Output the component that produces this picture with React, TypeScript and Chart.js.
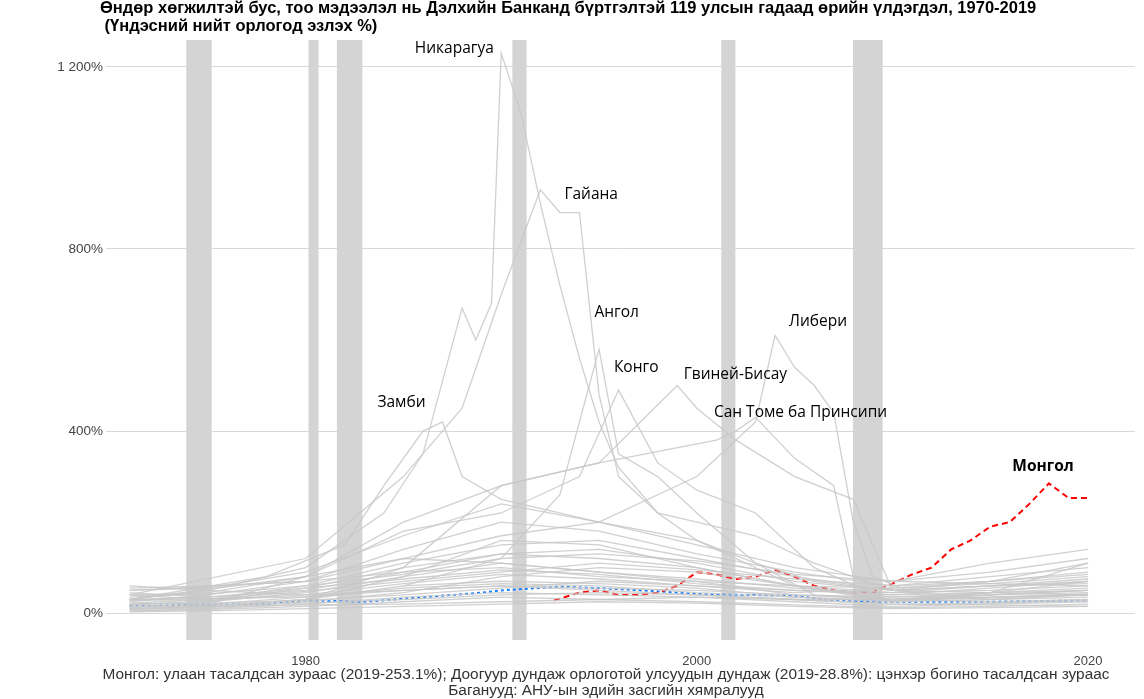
import React, { useEffect, useRef } from "react";
import { Chart, registerables } from "chart.js";
Chart.register(...registerables);

const titleLines = [
  "Өндөр хөгжилтэй бус, тоо мэдээлэл нь Дэлхийн Банканд бүртгэлтэй 119 улсын гадаад өрийн үлдэгдэл, 1970-2019",
  " (Үндэсний нийт орлогод эзлэх %)",
];
const footLines = [
  "Монгол: улаан тасалдсан зураас (2019-253.1%); Доогуур дундаж орлоготой улсуудын дундаж (2019-28.8%): цэнхэр богино тасалдсан зураас",
  "Баганууд: АНУ-ын эдийн засгийн хямралууд",
];
const recessions: [number, number][] = [
  [1973.9, 1975.2], [1980.15, 1980.66], [1981.6, 1982.9], [1990.57, 1991.3], [2001.25, 2001.97], [2007.98, 2009.5],
];
const years5 = [1971, 1975, 1980, 1985, 1990, 1995, 2000, 2005, 2010, 2015, 2020];
const background: number[][] = [
  [20, 25, 45, 80, 110, 90, 70, 40, 30, 35, 40],
  [10, 15, 30, 60, 70, 65, 55, 35, 25, 30, 35],
  [30, 35, 50, 90, 130, 120, 100, 60, 45, 50, 60],
  [5, 10, 20, 35, 45, 40, 35, 25, 15, 20, 25],
  [40, 30, 60, 110, 150, 160, 120, 80, 50, 70, 90],
  [15, 20, 35, 50, 60, 55, 50, 40, 35, 45, 55],
  [25, 40, 70, 140, 200, 180, 130, 90, 60, 80, 100],
  [60, 50, 40, 50, 60, 50, 40, 30, 30, 40, 50],
  [8, 12, 25, 45, 80, 100, 90, 60, 30, 25, 30],
  [35, 45, 80, 120, 110, 90, 75, 55, 40, 55, 70],
  [12, 18, 22, 30, 40, 45, 40, 30, 20, 22, 28],
  [50, 55, 90, 170, 240, 200, 150, 100, 70, 110, 140],
  [20, 22, 28, 40, 55, 70, 60, 50, 40, 45, 50],
  [45, 35, 55, 75, 95, 85, 65, 50, 45, 60, 75],
  [5, 8, 15, 25, 35, 30, 25, 18, 12, 15, 20],
  [30, 28, 40, 65, 85, 75, 60, 45, 55, 65, 80],
  [18, 25, 55, 100, 130, 140, 110, 70, 50, 60, 65],
  [10, 14, 18, 20, 25, 30, 35, 30, 20, 18, 15],
  [55, 60, 70, 90, 100, 80, 70, 60, 55, 70, 110],
  [22, 30, 48, 70, 90, 110, 95, 75, 60, 70, 85],
  [15, 16, 30, 80, 160, 150, 100, 60, 35, 40, 45],
  [40, 42, 60, 85, 120, 130, 115, 85, 70, 90, 120],
  [3, 5, 10, 15, 20, 25, 22, 15, 10, 12, 15],
  [28, 32, 36, 55, 65, 60, 45, 35, 28, 35, 42],
];
const namedSeries: { label: string; pts: [number, number][] }[] = [
  { label: "Nicaragua", pts: [[1971, 30], [1975, 50], [1980, 100], [1984, 220], [1986, 350], [1988, 670], [1988.7, 600], [1989.5, 680], [1990, 1230], [1991, 1100], [1992, 900], [1993, 720], [1994, 560], [1995, 420], [1996, 320], [1998, 220], [2000, 160], [2003, 110], [2006, 70], [2010, 50], [2015, 60], [2020, 70]] },
  { label: "Guyana", pts: [[1971, 40], [1980, 120], [1985, 300], [1988, 450], [1990, 700], [1992, 930], [1993, 880], [1994, 880], [1995, 480], [1996, 300], [1998, 220], [2000, 200], [2003, 170], [2006, 110], [2010, 50], [2015, 45], [2020, 40]] },
  { label: "Angola", pts: [[1985, 60], [1990, 120], [1993, 260], [1995, 580], [1996, 350], [1998, 300], [2000, 220], [2003, 110], [2006, 40], [2010, 30], [2015, 45], [2020, 70]] },
  { label: "Congo", pts: [[1971, 30], [1980, 80], [1985, 180], [1990, 220], [1994, 300], [1996, 490], [1998, 330], [2000, 270], [2003, 220], [2006, 100], [2010, 25], [2015, 40], [2020, 50]] },
  { label: "GuineaBissau", pts: [[1975, 20], [1980, 80], [1985, 200], [1990, 280], [1995, 330], [1999, 500], [2000, 450], [2002, 380], [2005, 300], [2008, 250], [2010, 50], [2015, 30], [2020, 40]] },
  { label: "SaoTome", pts: [[1980, 30], [1985, 100], [1990, 280], [1995, 330], [2001, 380], [2002, 400], [2003, 430], [2005, 340], [2007, 280], [2008, 80], [2010, 70], [2015, 65], [2020, 60]] },
  { label: "Liberia", pts: [[1971, 50], [1980, 70], [1985, 120], [1990, 170], [1995, 200], [2000, 300], [2003, 420], [2004, 610], [2005, 540], [2006, 500], [2007, 440], [2008, 200], [2009, 80], [2012, 30], [2020, 40]] },
  { label: "Zambia", pts: [[1971, 30], [1978, 80], [1982, 150], [1984, 280], [1986, 400], [1987, 420], [1988, 300], [1990, 250], [1995, 200], [2000, 160], [2005, 60], [2010, 25], [2015, 45], [2020, 110]] },
];
const mongoliaYears = [1992.7, 1994, 1995, 1996, 1997, 1998, 1999, 2000, 2001, 2002, 2003, 2004, 2005, 2006, 2007, 2008, 2009, 2010, 2011, 2012, 2013, 2014, 2015, 2016, 2017, 2018, 2019, 2020];
const mongoliaValues = [28, 45, 50, 40, 40, 45, 60, 90, 85, 75, 80, 95, 80, 60, 50, 45, 45, 65, 85, 100, 140, 160, 190, 200, 240, 285, 253, 253];
const medianYears = [1971, 1974, 1978, 1980, 1983, 1986, 1989, 1990, 1993, 1995, 1998, 2000, 2005, 2007, 2010, 2015, 2020];
const medianValues = [15, 18, 20, 28, 25, 35, 45, 50, 58, 55, 48, 42, 38, 28, 25, 25, 28];
const annotations: { text: string; x: number; y: number; bold?: boolean }[] = [
  { text: "Никарагуа", x: 1987.6, y: 1240 },
  { text: "Гайана", x: 1994.6, y: 920 },
  { text: "Ангол", x: 1995.9, y: 660 },
  { text: "Конго", x: 1996.9, y: 540 },
  { text: "Гвиней-Бисау", x: 2001.97, y: 525 },
  { text: "Сан Томе ба Принсипи", x: 2005.3, y: 440 },
  { text: "Либери", x: 2006.2, y: 640 },
  { text: "Замби", x: 1984.9, y: 463 },
  { text: "Монгол", x: 2017.7, y: 323, bold: true },
];

export default function App() {
  const ref = useRef<HTMLCanvasElement>(null);
  useEffect(() => {
    document.body.style.margin = "0";
    const grey = "rgba(200,200,200,0.85)";
    const datasets: any[] = [];
    background.forEach((s) =>
      datasets.push({ data: s.map((v, i) => ({ x: years5[i], y: v })), borderColor: grey, borderWidth: 1.3, pointRadius: 0, tension: 0 })
    );
    namedSeries.forEach((s) =>
      datasets.push({ data: s.pts.map(([x, y]) => ({ x, y })), borderColor: grey, borderWidth: 1.3, pointRadius: 0 })
    );
    datasets.push({ data: mongoliaYears.map((x, i) => ({ x, y: mongoliaValues[i] })), borderColor: "#ff0000", borderWidth: 2, borderDash: [6, 4], pointRadius: 0 });
    datasets.push({ data: medianYears.map((x, i) => ({ x, y: medianValues[i] })), borderColor: "#1a7fff", borderWidth: 2, borderDash: [3, 3], pointRadius: 0 });

    const deco = {
      id: "deco",
      beforeDatasetsDraw(c: any) {
        const { ctx, chartArea: a, scales } = c;
        ctx.save();
        ctx.fillStyle = "#d4d4d4";
        recessions.forEach(([s, e]) => {
          const x1 = scales.x.getPixelForValue(s), x2 = scales.x.getPixelForValue(e);
          ctx.fillRect(x1, a.top, x2 - x1, a.bottom - a.top);
        });
        ctx.restore();
      },
      afterDatasetsDraw(c: any) {
        const { ctx, scales } = c;
        ctx.save();
        ctx.textBaseline = "middle";
        ctx.fillStyle = "#000";
        annotations.forEach((an) => {
          ctx.font = (an.bold ? "bold " : "") + "15.5px 'Open Sans'";
          ctx.textAlign = "center";
          ctx.fillText(an.text, scales.x.getPixelForValue(an.x), scales.y.getPixelForValue(an.y));
        });
        ctx.font = "bold 16.5px 'Liberation Sans'";
        ctx.textAlign = "left";
        ctx.textBaseline = "alphabetic";
        ctx.fillText(titleLines[0], 100, 13);
        ctx.fillText(titleLines[1], 100, 31);
        ctx.font = "15.4px 'Liberation Sans'";
        ctx.fillStyle = "#333";
        ctx.textAlign = "center";
        ctx.fillText(footLines[0], 606, 679);
        ctx.fillText(footLines[1], 606, 695);
        ctx.restore();
      },
    };

    const chart = new Chart(ref.current!, {
      type: "line",
      data: { datasets },
      plugins: [deco],
      options: {
        animation: false,
        responsive: false,
        layout: { padding: { top: 40, right: 9, left: 8, bottom: 0 } },
        plugins: { legend: { display: false }, tooltip: { enabled: false } },
        scales: {
          x: {
            type: "linear", min: 1970, max: 2022.4,
            afterBuildTicks: (s: any) => { s.ticks = [1980, 2000, 2020].map((v) => ({ value: v })); },
            afterFit: (s: any) => { s.height = 59; },
            grid: { display: false },
            border: { display: false },
            ticks: { color: "#444", font: { family: "Liberation Sans", size: 13 }, callback: (v: any) => String(v), padding: 6 },
          },
          y: {
            min: -59, max: 1259,
            afterBuildTicks: (s: any) => { s.ticks = [0, 400, 800, 1200].map((v) => ({ value: v })); },
            afterFit: (s: any) => { s.width = 102; },
            grid: { color: "#d8d8d8", tickLength: 4 },
            border: { display: false },
            ticks: {
              color: "#444", font: { family: "Liberation Sans", size: 13.5 },
              callback: (v: any) => (v >= 1000 ? "1 " + String(v).slice(1) : String(v)) + "%",
            },
          },
        },
      },
    });
    return () => chart.destroy();
  }, []);
  return <canvas ref={ref} width={1144} height={699} style={{ display: "block" }} />;
}
